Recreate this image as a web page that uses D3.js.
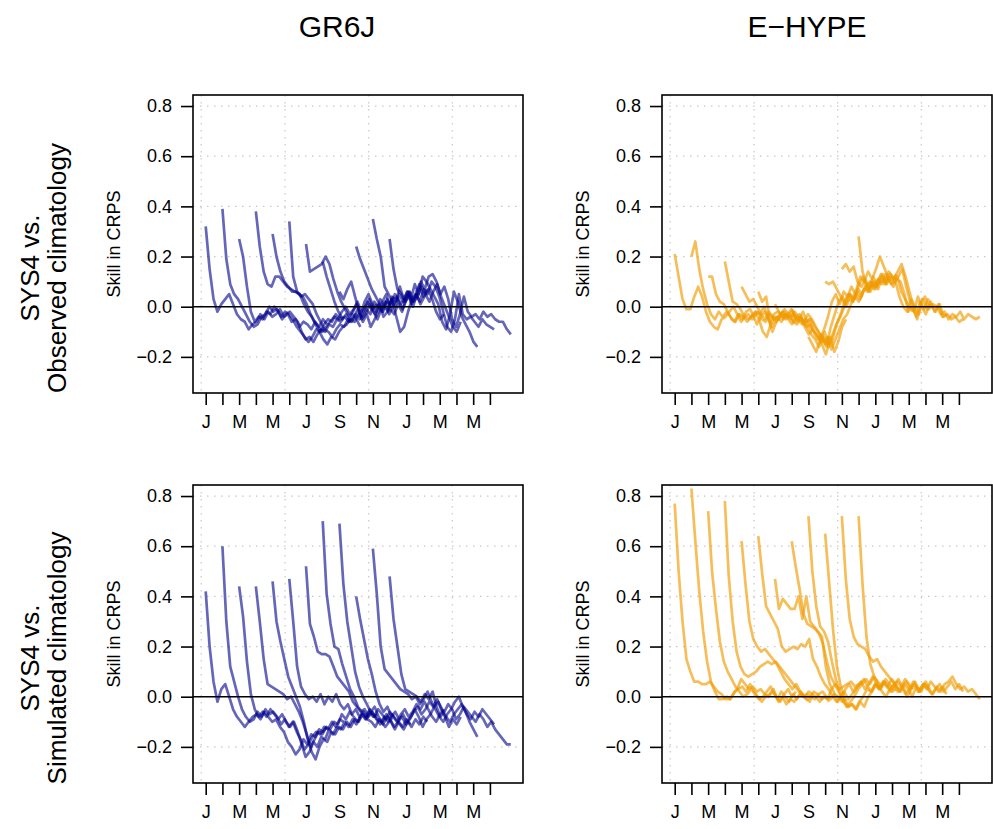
<!DOCTYPE html>
<html>
<head>
<meta charset="utf-8">
<script src="https://cdn.jsdelivr.net/npm/d3@7"></script>
<style>
  body { margin: 0; background: #fff; }
  svg { display: block; font-family: "Liberation Sans", Arial, Helvetica, sans-serif; }
</style>
</head>
<body>
<svg></svg>
<script>
// tick labels on the x axis (one tick per month, label every 2nd)
const monthLabels = ["J","F","M","A","M","J","J","A","S","O","N","D","J","F","M","A","M","J"];
const yTicks = [-0.2, 0, 0.2, 0.4, 0.6, 0.8];
const gridMonths = [-0.27, 4.75, 9.75, 14.75];
const startMonths = [0, 1, 2, 3, 4, 5, 6, 7, 8, 9, 10, 11];
const leadSpan = 7.25; // months covered by one forecast (32 weekly values)
const colTitles = ["GR6J", "E\u2212HYPE"];
const rowTitles = [["SYS4 vs.", "Observed climatology"], ["SYS4 vs.", "Simulated climatology"]];

// skill in CRPS, one row per initialisation month (Jan..Dec)
const gr6jObs = [
  [0.32,0.15,0.03,-0.02,0.01,0.03,0.05,0.01,-0.03,-0.05,-0.06,-0.09,-0.07,-0.06,-0.03,-0.05,-0.02,-0.04,-0.03,-0.01,-0.04,-0.03,-0.06,-0.05,-0.08,-0.06,-0.07,-0.09,-0.06,-0.08,-0.05,-0.07],
  [0.39,0.19,0.09,0.05,0.03,0.0,-0.03,-0.06,-0.08,-0.07,-0.04,-0.03,0.0,-0.02,-0.01,-0.04,-0.02,-0.03,-0.05,-0.08,-0.1,-0.12,-0.14,-0.12,-0.09,-0.1,-0.07,-0.05,-0.06,-0.03,-0.05,-0.04],
  [0.27,0.2,0.08,-0.02,-0.06,-0.04,-0.05,-0.02,-0.03,0.0,-0.02,-0.05,-0.03,-0.02,-0.04,-0.06,-0.1,-0.13,-0.12,-0.14,-0.11,-0.09,-0.1,-0.07,-0.08,-0.05,-0.06,-0.04,-0.06,-0.03,-0.05,-0.08],
  [0.38,0.24,0.14,0.09,0.08,0.12,0.12,0.1,0.08,0.07,0.06,0.05,0.04,0.01,-0.03,-0.06,-0.08,-0.1,-0.08,-0.06,-0.04,-0.05,-0.02,0.0,-0.03,-0.01,0.02,-0.02,0.0,0.03,-0.01,0.01],
  [0.29,0.2,0.14,0.1,0.08,0.06,0.06,0.05,0.01,-0.02,-0.04,-0.07,-0.1,-0.13,-0.15,-0.12,-0.13,-0.1,-0.08,-0.07,-0.05,-0.06,-0.03,-0.04,-0.01,-0.03,0.02,0.0,-0.02,0.02,0.01,0.04],
  [0.34,0.12,0.06,0.04,0.05,0.03,0.01,-0.03,-0.06,-0.09,-0.1,-0.12,-0.09,-0.07,-0.08,-0.05,-0.06,-0.03,-0.05,-0.02,0.02,-0.01,-0.03,0.01,-0.02,0.03,0.0,0.05,0.02,-0.01,0.03,0.06],
  [0.25,0.14,0.15,0.16,0.17,0.2,0.17,0.11,0.06,0.02,-0.01,-0.04,-0.02,0.01,-0.03,0.02,0.05,0.01,-0.02,0.03,0.0,-0.02,0.04,0.02,0.08,0.03,0.06,0.01,0.05,0.09,0.04,0.07],
  [0.18,0.12,0.07,0.02,-0.02,-0.05,-0.03,-0.06,-0.04,-0.01,-0.05,-0.03,0.01,-0.02,-0.05,-0.01,0.02,-0.03,0.0,0.04,0.01,0.03,0.06,0.02,0.05,0.01,0.04,0.07,0.03,-0.02,-0.05,-0.03],
  [0.06,0.03,0.07,0.1,0.04,-0.02,-0.06,-0.03,-0.08,-0.05,-0.02,0.02,0.05,-0.01,-0.03,0.01,-0.02,0.03,0.06,0.02,0.04,0.08,0.05,0.02,0.06,0.09,0.04,0.0,-0.04,-0.08,-0.1,-0.06],
  [0.24,0.19,0.15,0.11,0.07,0.04,0.01,-0.04,-0.02,0.03,0.0,0.05,0.02,0.06,0.03,0.09,0.05,0.12,0.1,0.07,0.04,0.01,-0.06,-0.09,-0.03,0.06,0.02,-0.04,-0.07,-0.1,-0.14,-0.16],
  [0.35,0.27,0.2,0.08,0.05,0.02,-0.04,-0.1,-0.08,-0.02,0.03,0.05,0.02,0.07,0.05,0.1,0.08,0.04,-0.02,-0.08,-0.1,-0.05,0.05,-0.03,-0.05,-0.04,-0.06,-0.08,-0.05,-0.07,-0.08,-0.09],
  [0.27,0.15,0.07,0.05,0.02,0.04,0.0,0.05,0.1,0.07,0.12,0.13,0.1,0.05,0.08,0.03,-0.05,-0.08,-0.03,0.04,-0.02,-0.04,-0.03,-0.05,-0.02,-0.04,-0.03,-0.05,-0.06,-0.06,-0.09,-0.11]
];

const ehypeObs = [
  [0.21,0.12,0.03,-0.01,-0.01,0.04,0.08,0.04,-0.02,-0.06,-0.08,-0.09,-0.05,-0.04,-0.02,0.0,-0.03,-0.06,-0.04,-0.05,-0.03,-0.07,-0.04,-0.02,-0.05,-0.1,-0.06,-0.04,-0.02,-0.05,-0.07,-0.04],
  [0.2,0.26,0.15,0.07,0.01,-0.03,-0.05,-0.02,-0.04,-0.02,-0.04,-0.06,-0.03,-0.05,-0.02,-0.01,-0.04,-0.02,-0.05,-0.06,-0.03,-0.05,-0.04,-0.06,-0.03,-0.04,-0.06,-0.07,-0.05,-0.08,-0.11,-0.09],
  [0.12,0.12,0.05,0.02,0.01,-0.02,-0.05,-0.06,-0.03,-0.04,-0.06,-0.04,-0.02,-0.05,-0.1,-0.12,-0.07,-0.04,-0.05,-0.02,-0.04,-0.03,-0.06,-0.05,-0.07,-0.05,-0.08,-0.1,-0.13,-0.11,-0.15,-0.12],
  [0.18,0.1,0.02,0.01,-0.01,-0.04,-0.03,-0.05,-0.02,-0.03,0.0,-0.04,-0.08,-0.05,-0.03,-0.05,-0.03,-0.01,-0.04,-0.05,-0.02,-0.06,-0.05,-0.08,-0.1,-0.13,-0.16,-0.12,-0.18,-0.14,-0.08,-0.05],
  [0.08,0.05,0.02,0.03,0.0,-0.03,-0.05,-0.02,-0.04,-0.06,-0.03,-0.01,-0.03,-0.02,-0.05,-0.04,-0.06,-0.03,-0.05,-0.08,-0.11,-0.14,-0.12,-0.17,-0.13,-0.09,-0.05,-0.03,0.01,0.04,0.02,0.05],
  [0.06,0.02,0.04,-0.06,-0.03,-0.02,-0.03,-0.05,-0.04,-0.03,-0.06,-0.04,-0.07,-0.05,-0.09,-0.11,-0.14,-0.1,-0.16,-0.13,-0.07,-0.04,0.0,0.03,0.02,0.05,0.03,0.07,0.06,0.09,0.07,0.1],
  [0.01,-0.02,-0.04,-0.03,-0.05,-0.02,-0.04,-0.06,-0.08,-0.07,-0.1,-0.12,-0.15,-0.19,-0.14,-0.1,-0.06,-0.02,0.03,0.05,0.02,0.06,0.04,0.08,0.06,0.1,0.08,0.11,0.09,0.12,0.1,0.13],
  [-0.01,-0.04,-0.03,-0.06,-0.08,-0.11,-0.13,-0.16,-0.12,-0.15,-0.08,-0.03,0.02,0.04,0.0,0.05,0.03,0.07,0.05,0.08,0.1,0.07,0.11,0.09,0.13,0.1,0.08,0.12,0.06,0.03,0.0,-0.02],
  [-0.12,-0.15,-0.18,-0.13,-0.09,-0.04,0.02,0.05,0.01,0.06,0.04,0.08,0.05,0.09,0.12,0.07,0.1,0.08,0.11,0.13,0.09,0.12,0.1,0.12,0.15,0.08,0.02,-0.02,0.04,0.0,-0.03,0.01],
  [0.1,0.09,0.1,0.07,0.04,0.01,0.05,0.03,0.07,0.12,0.1,0.14,0.11,0.15,0.2,0.16,0.12,0.09,0.1,0.04,0.0,-0.02,0.03,0.0,-0.03,0.03,-0.01,0.02,-0.02,0.01,-0.04,-0.03],
  [0.15,0.17,0.14,0.16,0.1,0.08,0.11,0.07,0.12,0.09,0.13,0.1,0.14,0.12,0.11,0.1,0.05,-0.02,0.0,-0.04,0.02,-0.01,0.03,0.0,-0.02,0.01,-0.04,-0.03,-0.05,-0.04,-0.06,-0.05],
  [0.28,0.14,0.09,0.06,0.1,0.07,0.12,0.09,0.13,0.11,0.14,0.17,0.12,0.06,0.0,-0.05,0.02,0.04,-0.01,0.01,0.0,-0.03,-0.02,-0.05,-0.03,-0.04,-0.02,-0.05,-0.03,-0.04,-0.05,-0.04]
];

const gr6jSim = [
  [0.42,0.2,0.06,-0.02,0.03,0.05,0.0,-0.05,-0.08,-0.1,-0.12,-0.1,-0.08,-0.07,-0.09,-0.06,-0.08,-0.1,-0.09,-0.12,-0.14,-0.18,-0.2,-0.23,-0.21,-0.17,-0.19,-0.15,-0.16,-0.13,-0.14,-0.12],
  [0.6,0.3,0.12,0.06,0.0,-0.05,-0.08,-0.1,-0.09,-0.06,-0.08,-0.05,-0.07,-0.06,-0.08,-0.11,-0.09,-0.12,-0.1,-0.14,-0.17,-0.21,-0.19,-0.16,-0.14,-0.15,-0.12,-0.13,-0.1,-0.12,-0.09,-0.1],
  [0.44,0.32,0.14,0.01,-0.05,-0.08,-0.06,-0.08,-0.05,-0.07,-0.09,-0.07,-0.1,-0.12,-0.1,-0.14,-0.19,-0.24,-0.22,-0.18,-0.2,-0.16,-0.17,-0.13,-0.15,-0.12,-0.13,-0.1,-0.12,-0.09,-0.11,-0.08],
  [0.44,0.3,0.15,0.05,0.04,0.03,0.02,0.01,-0.01,0.0,-0.03,-0.06,-0.1,-0.15,-0.2,-0.17,-0.14,-0.15,-0.12,-0.13,-0.1,-0.11,-0.07,-0.09,-0.06,-0.08,-0.1,-0.07,-0.09,-0.06,-0.08,-0.07],
  [0.46,0.3,0.22,0.15,0.08,0.04,0.0,-0.04,-0.1,-0.17,-0.22,-0.25,-0.2,-0.17,-0.18,-0.14,-0.15,-0.12,-0.13,-0.1,-0.12,-0.09,-0.1,-0.07,-0.09,-0.06,-0.08,-0.05,-0.07,-0.09,-0.06,-0.08],
  [0.47,0.3,0.12,0.04,0.01,-0.01,0.0,-0.02,0.01,-0.03,0.0,-0.02,0.01,-0.03,-0.05,-0.03,-0.07,-0.05,-0.08,-0.06,-0.09,-0.1,-0.12,-0.09,-0.11,-0.08,-0.1,-0.13,-0.1,-0.12,-0.09,-0.11],
  [0.52,0.29,0.24,0.18,0.17,0.17,0.16,0.12,0.08,0.06,0.04,0.02,-0.02,-0.04,-0.06,-0.05,-0.08,-0.06,-0.09,-0.11,-0.08,-0.1,-0.07,-0.09,-0.11,-0.13,-0.1,-0.12,-0.09,-0.11,-0.08,-0.1],
  [0.7,0.41,0.29,0.2,0.19,0.13,0.08,0.03,0.0,-0.04,-0.06,-0.08,-0.05,-0.07,-0.09,-0.1,-0.12,-0.1,-0.08,-0.1,-0.07,-0.05,-0.08,-0.06,-0.03,-0.05,-0.02,-0.05,-0.08,-0.1,-0.07,-0.05],
  [0.69,0.45,0.3,0.2,0.1,0.04,0.0,-0.03,-0.06,-0.04,-0.08,-0.1,-0.07,-0.09,-0.12,-0.1,-0.08,-0.11,-0.09,-0.06,-0.04,-0.07,-0.05,-0.02,-0.04,-0.01,-0.05,-0.08,-0.12,-0.09,-0.11,-0.08],
  [0.4,0.31,0.23,0.15,0.09,0.02,-0.03,-0.06,-0.04,-0.08,-0.06,-0.09,-0.07,-0.1,-0.08,-0.05,-0.08,-0.12,-0.09,-0.07,-0.04,-0.02,-0.05,-0.08,-0.1,-0.07,-0.05,-0.03,-0.06,-0.1,-0.13,-0.16],
  [0.59,0.41,0.2,0.11,0.09,0.07,0.05,0.03,0.02,0.01,-0.01,0.0,-0.03,-0.01,0.02,-0.02,-0.05,-0.08,-0.1,-0.07,-0.05,-0.02,0.0,-0.04,-0.07,-0.09,-0.06,-0.08,-0.05,-0.07,-0.09,-0.11],
  [0.48,0.31,0.2,0.09,0.03,0.02,0.01,0.0,-0.02,0.01,-0.01,0.02,-0.04,-0.08,-0.06,-0.03,-0.05,-0.09,-0.07,-0.04,-0.06,-0.08,-0.1,-0.07,-0.09,-0.12,-0.1,-0.13,-0.15,-0.17,-0.19,-0.19]
];

const ehypeSim = [
  [0.77,0.5,0.3,0.15,0.1,0.06,0.06,0.05,0.05,0.06,0.04,0.02,0.01,-0.01,-0.01,0.01,0.03,0.07,0.05,0.03,0.04,0.02,0.03,0.01,0.0,0.02,0.0,-0.02,0.01,0.03,0.0,0.02],
  [0.83,0.62,0.42,0.26,0.14,0.06,0.02,-0.01,-0.01,0.0,-0.01,0.02,0.03,0.04,0.02,0.05,0.02,0.0,-0.02,0.0,0.01,0.03,-0.01,0.02,0.0,-0.02,0.01,-0.01,0.02,0.0,0.02,0.01],
  [0.74,0.5,0.35,0.22,0.14,0.1,0.07,0.04,0.02,0.0,0.01,0.03,0.01,-0.01,0.0,0.02,0.04,0.01,-0.02,0.0,-0.03,-0.01,-0.02,0.0,0.01,-0.01,-0.02,0.02,0.01,-0.01,0.0,-0.02],
  [0.78,0.48,0.3,0.18,0.12,0.09,0.08,0.09,0.1,0.12,0.13,0.14,0.13,0.14,0.12,0.1,0.08,0.06,0.04,0.02,0.0,0.01,0.0,-0.01,0.01,0.02,0.0,-0.01,0.01,0.0,-0.02,-0.01],
  [0.62,0.45,0.3,0.23,0.2,0.18,0.19,0.17,0.15,0.13,0.1,0.07,0.05,0.03,0.05,0.02,0.0,-0.01,0.01,0.0,-0.02,0.0,-0.01,0.03,0.05,0.03,0.04,0.05,0.06,0.04,0.05,0.06],
  [0.64,0.49,0.36,0.33,0.3,0.27,0.2,0.18,0.19,0.2,0.19,0.21,0.2,0.23,0.15,0.12,0.08,0.05,0.03,0.0,-0.02,0.0,0.02,-0.01,0.01,0.03,0.05,0.07,0.04,0.02,0.05,0.03],
  [0.47,0.35,0.39,0.37,0.35,0.35,0.4,0.31,0.4,0.3,0.28,0.26,0.24,0.12,0.05,0.02,-0.02,0.0,0.03,0.05,0.02,0.04,0.06,0.03,0.05,0.08,0.05,0.03,0.06,0.04,0.02,0.03],
  [0.62,0.52,0.43,0.33,0.29,0.28,0.27,0.25,0.21,0.14,0.08,0.05,0.02,-0.01,-0.04,-0.02,0.0,0.03,0.05,0.07,0.05,0.08,0.06,0.04,0.07,0.05,0.03,0.06,0.04,0.07,0.05,0.03],
  [0.72,0.5,0.36,0.28,0.26,0.22,0.14,0.07,0.02,-0.02,-0.04,-0.03,-0.05,-0.02,0.0,0.03,0.02,0.05,0.03,0.06,0.04,0.02,0.05,0.07,0.04,0.06,0.03,0.05,0.02,0.04,0.06,0.03],
  [0.65,0.46,0.27,0.12,0.04,-0.01,-0.04,-0.03,-0.05,-0.02,-0.04,0.0,0.02,0.05,0.03,0.06,0.04,0.07,0.05,0.02,0.04,0.0,0.03,0.06,0.02,0.05,0.03,0.06,0.04,0.02,0.04,0.01],
  [0.72,0.47,0.31,0.24,0.21,0.2,0.19,0.16,0.14,0.15,0.12,0.1,0.08,0.06,0.04,0.02,0.05,0.03,0.0,0.04,0.02,0.05,0.03,0.01,0.03,0.05,0.02,0.04,0.06,0.03,0.05,0.02],
  [0.72,0.45,0.24,0.13,0.08,0.05,0.02,0.0,0.03,0.05,0.02,0.04,0.01,0.03,0.06,0.04,0.02,0.05,0.03,0.01,0.04,0.02,0.05,0.06,0.08,0.05,0.03,0.04,0.02,0.03,0.01,-0.01]
];

const blue = "rgb(0,0,139)";
const orange = "rgb(240,155,0)";

const panels = [
  {data: gr6jObs, color: blue, col: 0, row: 0},
  {data: ehypeObs, color: orange, col: 1, row: 0},
  {data: gr6jSim, color: blue, col: 0, row: 1},
  {data: ehypeSim, color: orange, col: 1, row: 1}
];

const W = 993, H = 829;
const boxLeft = [193, 662], boxTop = [95, 485];
const boxW = 330, boxH = 298;

const svg = d3.select("svg").attr("width", W).attr("height", H);

// column titles
svg.selectAll(".coltitle").data(colTitles).enter().append("text")
  .attr("x", (d, i) => i === 0 ? 337 : 807)
  .attr("y", 37)
  .attr("text-anchor", "middle")
  .style("font-size", "30px")
  .text(d => d);

// row titles (two lines, rotated)
rowTitles.forEach((lines, r) => {
  const cy = boxTop[r] + boxH / 2 + 24;
  lines.forEach((t, j) => {
    svg.append("text")
      .attr("transform", `translate(${j === 0 ? 39 : 66},${cy}) rotate(-90)`)
      .attr("text-anchor", "middle")
      .style("font-size", "26px")
      .text(t);
  });
});

const x = d3.scaleLinear().domain([-0.76, 18.98]).range([0, boxW]);
const y = d3.scaleLinear().domain([-0.344, 0.844]).range([boxH, 0]);
const step = leadSpan / 31;

const line = d3.line()
  .x(d => x(d[0]))
  .y(d => y(d[1]));

panels.forEach(p => {
  const g = svg.append("g").attr("transform", `translate(${boxLeft[p.col]},${boxTop[p.row]})`);

  // dotted grid
  g.selectAll(".hgrid").data(yTicks).enter().append("line")
    .attr("x1", 0).attr("x2", boxW)
    .attr("y1", d => y(d)).attr("y2", d => y(d))
    .attr("stroke", "#c8c8c8").attr("stroke-width", 1.2)
    .attr("stroke-dasharray", "1.5,5.5");
  g.selectAll(".vgrid").data(gridMonths).enter().append("line")
    .attr("y1", 0).attr("y2", boxH)
    .attr("x1", d => x(d)).attr("x2", d => x(d))
    .attr("stroke", "#c8c8c8").attr("stroke-width", 1.2)
    .attr("stroke-dasharray", "1.5,5.5");

  // forecast lines
  p.data.forEach((vals, i) => {
    const pts = vals.map((v, k) => [startMonths[i] + k * step, v]);
    g.append("path")
      .attr("d", line(pts))
      .attr("fill", "none")
      .attr("stroke", p.color)
      .attr("stroke-opacity", p.color === blue ? 0.6 : 0.65)
      .attr("stroke-width", 2.7)
      .attr("stroke-linejoin", "round");
  });

  // zero line
  g.append("line")
    .attr("x1", 0).attr("x2", boxW)
    .attr("y1", y(0)).attr("y2", y(0))
    .attr("stroke", "#000").attr("stroke-width", 1.6);

  // box
  g.append("rect")
    .attr("width", boxW).attr("height", boxH)
    .attr("fill", "none").attr("stroke", "#000").attr("stroke-width", 1.6);

  // y axis
  const yAxis = d3.axisLeft(y).tickValues(yTicks).tickSize(12).tickPadding(9)
    .tickFormat(d3.format(".1f"));
  const ya = g.append("g").call(yAxis);
  ya.select(".domain").remove();
  ya.selectAll("line").attr("stroke-width", 1.6);
  ya.selectAll("text").style("font-size", "18px").attr("font-family", null)
    .text(d => d3.format(".1f")(d).replace("-", "\u2212"));

  // x axis
  const xAxis = d3.axisBottom(x).tickValues(d3.range(monthLabels.length)).tickSize(12).tickPadding(10)
    .tickFormat((d, i) => i % 2 === 0 ? monthLabels[i] : "");
  const xa = g.append("g").attr("transform", `translate(0,${boxH})`).call(xAxis);
  xa.select(".domain").remove();
  xa.selectAll("line").attr("stroke-width", 1.6);
  xa.selectAll("text").style("font-size", "18px").attr("font-family", null);

  // y label
  g.append("text")
    .attr("transform", `translate(-73,${boxH / 2}) rotate(-90)`)
    .attr("text-anchor", "middle")
    .style("font-size", "18px")
    .text("Skill in CRPS");
});
</script>
</body>
</html>
